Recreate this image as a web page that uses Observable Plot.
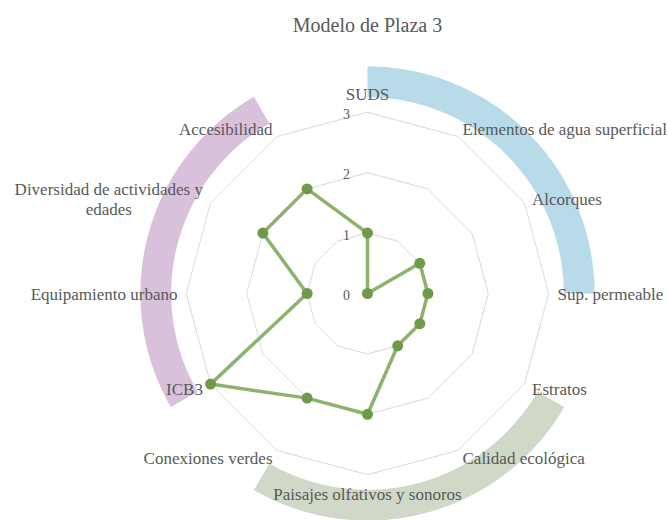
<!DOCTYPE html>
<html><head><meta charset="utf-8">
<script src="https://cdn.jsdelivr.net/npm/d3@7"></script>
<script src="https://cdn.jsdelivr.net/npm/@observablehq/plot@0.6"></script>
<style>body{margin:0;background:#fff}</style>
</head><body><div id="chart"></div>
<script>
// ---- data ----
const title = "Modelo de Plaza 3";
const categories = [
  "SUDS",
  "Elementos de agua superficial",
  "Alcorques",
  "Sup. permeable",
  "Estratos",
  "Calidad ecológica",
  "Paisajes olfativos y sonoros",
  "Conexiones verdes",
  "ICB3",
  "Equipamiento urbano",
  "Diversidad de actividades y\nedades",
  "Accesibilidad"
];
const values = [1, 0, 1, 1, 1, 1, 2, 2, 3, 1, 2, 2];
const tickValues = [0, 1, 2, 3];
const gridLevels = [1, 2, 3];
const groupNames = ["Agua", "Ecología", "Social"];
const groupStart = [0, 4, 8];   // category index where each band starts
const groupEnd = [3, 7, 11];    // category index where each band ends

// ---- layout & style ----
const W = 668, H = 520, CX = 367, CY = 293, UNIT = 60.4;
const FONT = "'Liberation Serif', 'Times New Roman', serif";
const TEXT = "#595959";
const groupColors = ["#b8dbe9", "#d0d8c8", "#d9c1dc"];
const bandInner = 3.25, bandOuter = 3.76;
const labelR = 190 / UNIT;
const labelSize = 17, lineH = 1.18;

const n = categories.length;
const ang = i => i * 2 * Math.PI / n;

// series polygon
const series = values.map((v, i) => ({cat: categories[i], v, x: v * Math.sin(ang(i)), y: v * Math.cos(ang(i))}));
const seriesClosed = [...series, series[0]];

// grid polygons
const grid = [];
for (const L of gridLevels) for (let i = 0; i <= n; i++) grid.push({level: L, x: L * Math.sin(ang(i % n)), y: L * Math.cos(ang(i % n))});

// bands (arc shapes)
const bands = [];
groupNames.forEach((g, k) => {
  const a0 = ang(groupStart[k]), a1 = ang(groupEnd[k]);
  const steps = 60;
  const outer = [], inner = [];
  for (let s = 0; s <= steps; s++) {
    const a = a0 + (a1 - a0) * s / steps;
    outer.push({g, x: bandOuter * Math.sin(a), y: bandOuter * Math.cos(a)});
    inner.push({g, x: bandInner * Math.sin(a), y: bandInner * Math.cos(a)});
  }
  bands.push(...outer, ...inner.reverse());
});

// labels: box placed outside anchor point
const ctx = document.createElement("canvas").getContext("2d");
ctx.font = `${labelSize}px ${FONT}`;
const labels = categories.map((c, i) => {
  const a = ang(i), s = Math.sin(a), co = Math.cos(a);
  const lines = c.split("\n");
  const w = Math.max(...lines.map(l => ctx.measureText(l).width)) / UNIT;
  const h = lines.length * labelSize * lineH / UNIT;
  let x = labelR * s, y = labelR * co;
  if (Math.abs(s) < 0.01) y += Math.sign(co) * h / 2;
  else x += Math.sign(s) * w / 2;
  return {text: c, x, y};
});

const chart = Plot.plot({
  width: W, height: H,
  marginTop: 0, marginRight: 0, marginBottom: 0, marginLeft: 0,
  x: {domain: [-CX / UNIT, (W - CX) / UNIT], axis: null},
  y: {domain: [-(H - CY) / UNIT, CY / UNIT], axis: null},
  style: {fontFamily: FONT, background: "#fff"},
  marks: [
    Plot.line(bands, {x: "x", y: "y", z: "g", fill: d => groupColors[groupNames.indexOf(d.g)], stroke: null}),
    Plot.line(grid, {x: "x", y: "y", z: "level", stroke: "#d9d9d9", strokeWidth: 1}),
    Plot.text(tickValues, {x: () => 0, y: d => d, text: d => String(d), dx: -21, dy: 2, fontSize: 14, fill: TEXT, fontFamily: FONT}),
    Plot.line(seriesClosed, {x: "x", y: "y", stroke: "#8db26d", strokeWidth: 3.5, strokeLinejoin: "round"}),
    Plot.dot(series, {x: "x", y: "y", r: 5.5, fill: "#6f9a49", stroke: null}),
    Plot.text(labels, {x: "x", y: "y", text: "text", textAnchor: "middle", lineAnchor: "middle", lineHeight: lineH, fontSize: labelSize, fill: TEXT, fontFamily: FONT}),
    Plot.text([title], {x: () => 0, y: () => (CY - 25) / UNIT, text: d => d, fontSize: 20, fill: TEXT, fontFamily: FONT})
  ]
});
document.getElementById("chart").appendChild(chart);
</script>
</body></html>
